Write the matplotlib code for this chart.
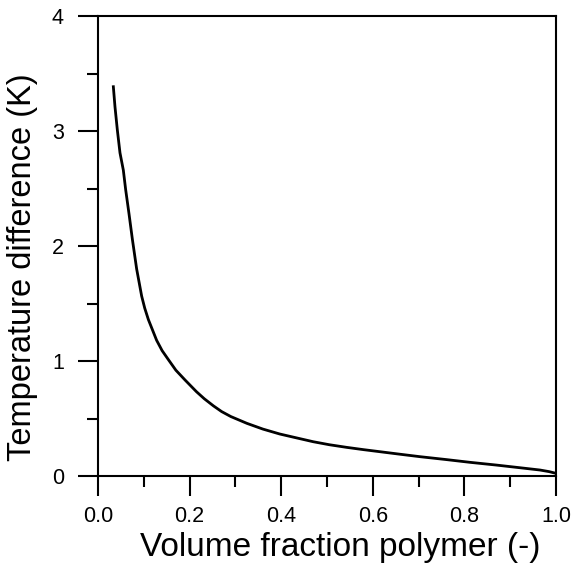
import matplotlib
matplotlib.use("Agg")
import matplotlib.pyplot as plt
from matplotlib.ticker import MultipleLocator

plt.rcParams['font.family'] = ['Liberation Sans', 'DejaVu Sans']

# volume fraction of polymer and the temperature difference it gives
phi = [0.0335, 0.0371, 0.0422, 0.048, 0.0553, 0.0604, 0.0677, 0.075, 0.0844,
       0.0953, 0.102, 0.110, 0.128, 0.140, 0.154, 0.170, 0.190, 0.215, 0.232,
       0.252, 0.270, 0.290, 0.325, 0.360, 0.397, 0.435, 0.470, 0.505, 0.543,
       0.580, 0.616, 0.660, 0.703, 0.760, 0.812, 0.870, 0.921, 0.965, 0.985,
       1.000]
dT = [3.385, 3.21, 3.01, 2.81, 2.66, 2.49, 2.28, 2.06, 1.80,
      1.565, 1.46, 1.36, 1.18, 1.09, 1.01, 0.92, 0.835, 0.733, 0.672,
      0.610, 0.560, 0.517, 0.458, 0.408, 0.365, 0.330, 0.298, 0.272, 0.249,
      0.229, 0.211, 0.189, 0.168, 0.143, 0.119, 0.095, 0.072, 0.052, 0.038,
      0.023]

fig = plt.figure(figsize=(5.73, 5.68), dpi=100)
ax = fig.add_axes([98 / 573, 92 / 568, 458 / 573, 460 / 568])

ax.plot(phi, dT, color='black', linewidth=2.0)

ax.set_xlim(0, 1)
ax.set_ylim(0, 4)
ax.xaxis.set_major_locator(MultipleLocator(0.2))
ax.xaxis.set_minor_locator(MultipleLocator(0.1))
ax.yaxis.set_major_locator(MultipleLocator(1))
ax.yaxis.set_minor_locator(MultipleLocator(0.5))
ax.set_xticklabels([f"{v:.1f}" for v in ax.get_xticks()])

ax.tick_params(which='both', direction='out', width=1.5, top=False, right=False,
               labelsize=15.5)
ax.tick_params(which='major', length=14.5)
ax.tick_params(axis='x', which='major', pad=7)
ax.tick_params(axis='y', which='major', pad=10)
ax.tick_params(which='minor', length=8)
for s in ax.spines.values():
    s.set_linewidth(1.5)

ax.set_xlabel("Volume fraction polymer (-)", fontsize=24)
ax.set_ylabel("Temperature difference (K)", fontsize=23.5)
ax.xaxis.set_label_coords(0.528, -0.121)
ax.yaxis.set_label_coords(-0.131, 0.454)

fig.savefig("out.png", dpi=100)
